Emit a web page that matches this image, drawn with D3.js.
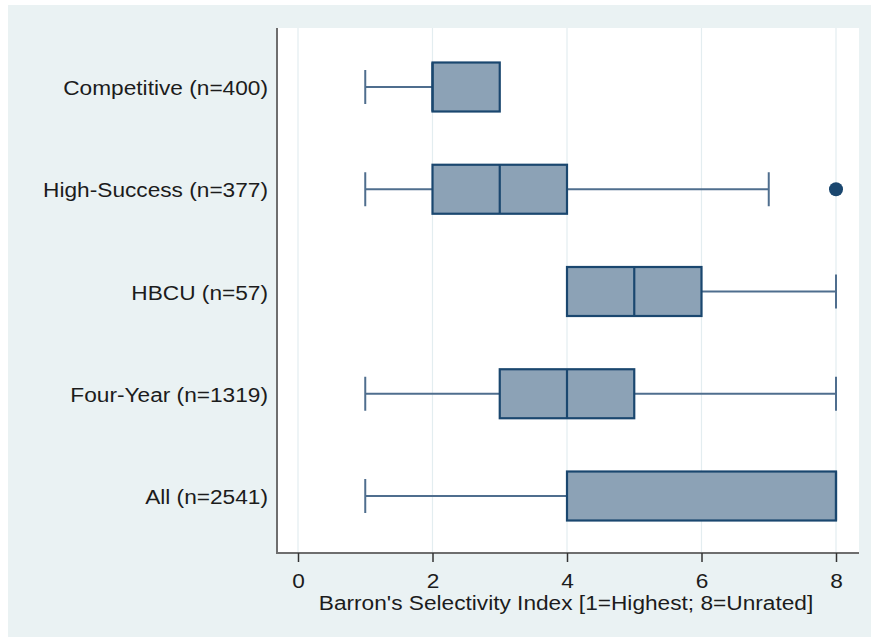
<!DOCTYPE html>
<html><head><meta charset="utf-8">
<script src="https://cdn.jsdelivr.net/npm/d3@7"></script>
<style>body{margin:0;background:#fff}svg{display:block}text{font-family:"Liberation Sans",Arial,sans-serif;fill:#1c1c1c}</style>
</head><body><div id="c"></div>
<script>
const categories = ["Competitive (n=400)","High-Success (n=377)","HBCU (n=57)","Four-Year (n=1319)","All (n=2541)"];
const lowerWhisker = [1,1,4,1,1];
const q1 = [2,2,4,3,4];
const median = [2,3,5,4,8];
const q3 = [3,4,6,5,8];
const upperWhisker = [3,7,8,8,8];
const outliers = [[],[8],[],[],[]];
const xTicks = [0,2,4,6,8];
const xTitle = "Barron's Selectivity Index [1=Highest; 8=Unrated]";

const W=871,H=637;
const svg=d3.select("#c").append("svg").attr("width",W).attr("height",H);
svg.append("rect").attr("x",8).attr("y",5).attr("width",W-8).attr("height",H-5).attr("fill","#eaf2f3");
const pl=277,pr=859,pt=28,pb=553;
svg.append("rect").attr("x",pl).attr("y",pt).attr("width",pr-pl).attr("height",pb-pt).attr("fill","#fff");
const x=d3.scaleLinear().domain([0,8]).range([298,836]);
const y=d3.scalePoint().domain(categories).range([87,496]);
// grid
svg.append("g").selectAll("line").data(xTicks).join("line")
 .attr("x1",d=>x(d)).attr("x2",d=>x(d)).attr("y1",pt).attr("y2",pb)
 .attr("stroke","#e3edf0").attr("stroke-width",1.2);
const navy="#1a476f",fill="#8ca2b6",wh="#4f6e8e";
const bh=49,ch=34;
const data=categories.map((c,i)=>({c,lo:lowerWhisker[i],q1:q1[i],med:median[i],q3:q3[i],hi:upperWhisker[i],out:outliers[i]}));
const g=svg.append("g");
data.forEach(d=>{
  const cy=y(d.c);
  if(d.lo<d.q1){
    g.append("line").attr("x1",x(d.lo)).attr("x2",x(d.q1)).attr("y1",cy).attr("y2",cy).attr("stroke",wh).attr("stroke-width",2);
    g.append("line").attr("x1",x(d.lo)).attr("x2",x(d.lo)).attr("y1",cy-ch/2).attr("y2",cy+ch/2).attr("stroke",wh).attr("stroke-width",2);
  }
  if(d.hi>d.q3){
    g.append("line").attr("x1",x(d.q3)).attr("x2",x(d.hi)).attr("y1",cy).attr("y2",cy).attr("stroke",wh).attr("stroke-width",2);
    g.append("line").attr("x1",x(d.hi)).attr("x2",x(d.hi)).attr("y1",cy-ch/2).attr("y2",cy+ch/2).attr("stroke",wh).attr("stroke-width",2);
  }
  g.append("rect").attr("x",x(d.q1)).attr("y",cy-bh/2).attr("width",x(d.q3)-x(d.q1)).attr("height",bh)
   .attr("fill",fill).attr("stroke",navy).attr("stroke-width",2.2);
  g.append("line").attr("x1",x(d.med)).attr("x2",x(d.med)).attr("y1",cy-bh/2).attr("y2",cy+bh/2).attr("stroke",navy).attr("stroke-width",2.2);
  d.out.forEach(o=>g.append("circle").attr("cx",x(o)).attr("cy",cy).attr("r",7).attr("fill",navy));
});
// axes lines
svg.append("line").attr("x1",pl).attr("x2",pl).attr("y1",pt).attr("y2",pb+1).attr("stroke","#6e6e6e").attr("stroke-width",2);
svg.append("line").attr("x1",pl-1).attr("x2",pr).attr("y1",pb).attr("y2",pb).attr("stroke","#6e6e6e").attr("stroke-width",2);
// x axis ticks
const xa=d3.axisBottom(x).tickValues(xTicks).tickSize(9).tickPadding(0).tickFormat(d3.format("d"));
const ax=svg.append("g").attr("transform",`translate(0,${pb})`).call(xa);
ax.select(".domain").remove();
ax.selectAll(".tick line").attr("stroke","#333").attr("stroke-width",1.5);
ax.selectAll(".tick text").attr("y",0).attr("dy",null).attr("font-size",21).style("fill","#1c1c1c")
 .attr("transform","translate(0,35) scale(1.08,1)");
// y labels
const ya=d3.axisLeft(y).tickSize(0).tickPadding(0);
const ay=svg.append("g").attr("transform",`translate(${pl},0)`).call(ya);
ay.select(".domain").remove();
ay.selectAll(".tick text").attr("x",0).attr("dy",null).attr("y",0).attr("font-size",21).style("fill","#1c1c1c")
 .attr("transform","translate(-9,7.5) scale(1.08,1)");
// title
svg.append("text").attr("transform","translate(566,610) scale(1.08,1)").attr("text-anchor","middle").attr("font-size",21).text(xTitle);
</script></body></html>
